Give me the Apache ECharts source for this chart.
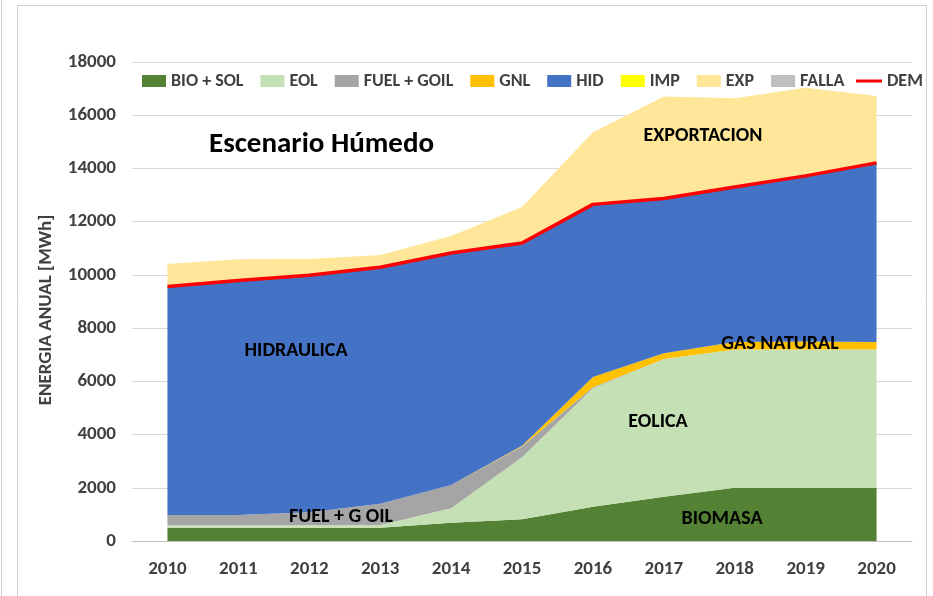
<!DOCTYPE html>
<html>
<head>
<meta charset="utf-8">
<script src="https://cdn.jsdelivr.net/npm/echarts@6/dist/echarts.min.js"></script>
<style>
  html, body { margin: 0; padding: 0; background: #fff; }
  #main { width: 933px; height: 596px; }
</style>
</head>
<body>
<div id="main"></div>
<script>
// 数据
var years = ['2010', '2011', '2012', '2013', '2014', '2015', '2016', '2017', '2018', '2019', '2020'];
var bioSol = [500, 500, 500, 500, 690, 820, 1290, 1660, 2000, 2000, 2000];
var eol = [90, 90, 100, 100, 540, 2330, 4450, 5180, 5200, 5200, 5200];
var fuelGoil = [390, 390, 480, 800, 870, 400, 40, 0, 0, 0, 0];
var gnl = [0, 0, 0, 0, 0, 30, 380, 220, 280, 300, 280];
var hid = [8580, 8810, 8910, 8890, 8720, 7620, 6490, 5810, 5820, 6220, 6730];
var imp = [0, 0, 0, 0, 0, 0, 0, 0, 0, 0, 0];
var exp = [850, 800, 610, 460, 640, 1350, 2710, 3830, 3340, 3310, 2510];
var falla = [0, 0, 0, 0, 0, 0, 0, 0, 0, 0, 0];
var dem = [9560, 9790, 9990, 10290, 10820, 11200, 12650, 12870, 13300, 13720, 14210];
var yTicks = [0, 2000, 4000, 6000, 8000, 10000, 12000, 14000, 16000, 18000];

var FONT = "Carlito, 'Liberation Sans Narrow', 'DejaVu Sans Condensed', sans-serif";

var myChart = echarts.init(document.getElementById('main'));

function area(name, data, color) {
    return {
        name: name,
        type: 'line',
        stack: 'total',
        data: data,
        symbol: 'none',
        lineStyle: { width: 0 },
        areaStyle: { color: color, opacity: 1 },
        itemStyle: { color: color },
        emphasis: { disabled: true }
    };
}

// 图中的文字标注
function label(text, x, y) {
    return {
        type: 'text', x: x, y: y, z: 100,
        style: { text: text, font: 'bold 20px ' + FONT, fill: '#000', align: 'center', verticalAlign: 'middle' }
    };
}

var legendText = { fontFamily: FONT, fontSize: 18, fontWeight: 'bold', color: '#404040' };

var option = {
    animation: false,
    textStyle: { fontFamily: FONT },
    grid: { left: 132, right: 21, top: 62, bottom: 55 },
    legend: [{
        left: 137,
        top: 67,
        itemWidth: 24,
        itemHeight: 12,
        itemGap: 17,
        textStyle: legendText,
        data: [
            { name: 'BIO + SOL', icon: 'rect' },
            { name: 'EOL', icon: 'rect' },
            { name: 'FUEL + GOIL', icon: 'rect' },
            { name: 'GNL', icon: 'rect' },
            { name: 'HID', icon: 'rect' },
            { name: 'IMP', icon: 'rect' },
            { name: 'EXP', icon: 'rect' },
            { name: 'FALLA', icon: 'rect' }
        ]
    }, {
        left: 851,
        top: 67,
        itemWidth: 26,
        itemHeight: 3,
        textStyle: legendText,
        data: [{ name: 'DEM', icon: 'rect' }]
    }],
    xAxis: {
        type: 'category',
        data: years,
        boundaryGap: true,
        axisLine: { lineStyle: { color: '#BFBFBF' } },
        axisTick: { length: 6, lineStyle: { color: '#BFBFBF' } },
        axisLabel: { margin: 19, fontSize: 19, fontWeight: 'bold', color: '#404040', fontFamily: FONT }
    },
    yAxis: {
        type: 'value',
        min: yTicks[0],
        max: yTicks[yTicks.length - 1],
        interval: 2000,
        axisLine: { show: false },
        axisTick: { show: false },
        splitLine: { lineStyle: { color: '#D9D9D9' } },
        axisLabel: {
            margin: 16, fontSize: 19, fontWeight: 'bold', color: '#404040', fontFamily: FONT,
            formatter: function (v) { return String(v); }
        }
    },
    graphic: [
        { type: 'rect', shape: { x: 17.5, y: 5.5, width: 909, height: 620 }, style: { fill: 'none', stroke: '#D0D0D0', lineWidth: 1 }, silent: true },
        { type: 'line', shape: { x1: 1.5, y1: 0, x2: 1.5, y2: 596 }, style: { stroke: '#D0D0D0', lineWidth: 1 }, silent: true },
        { type: 'text', x: 46, y: 310, rotation: Math.PI / 2, z: 100,
          style: { text: 'ENERGIA ANUAL [MWh]', font: 'bold 19px ' + FONT, fill: '#404040', align: 'center', verticalAlign: 'middle' } },
        { type: 'text', x: 209, y: 145, z: 100,
          style: { text: 'Escenario Húmedo', font: 'bold 29px ' + FONT, fill: '#000', align: 'left', verticalAlign: 'middle' } },
        label('HIDRAULICA', 296, 351),
        label('FUEL + G OIL', 341, 517),
        label('EXPORTACION', 703, 136),
        label('GAS NATURAL', 780, 344),
        label('EOLICA', 658, 422),
        label('BIOMASA', 722, 519)
    ],
    series: [
        area('BIO + SOL', bioSol, '#548235'),
        area('EOL', eol, '#C5E0B4'),
        area('FUEL + GOIL', fuelGoil, '#A5A5A5'),
        area('GNL', gnl, '#FFC000'),
        area('HID', hid, '#4472C4'),
        area('IMP', imp, '#FFFF00'),
        area('EXP', exp, '#FFE699'),
        area('FALLA', falla, '#BFBFBF'),
        {
            name: 'DEM',
            type: 'line',
            data: dem,
            symbol: 'none',
            z: 5,
            lineStyle: { color: '#FF0000', width: 3.5 },
            itemStyle: { color: '#FF0000' },
            emphasis: { disabled: true }
        }
    ]
};

myChart.setOption(option);
</script>
</body>
</html>
